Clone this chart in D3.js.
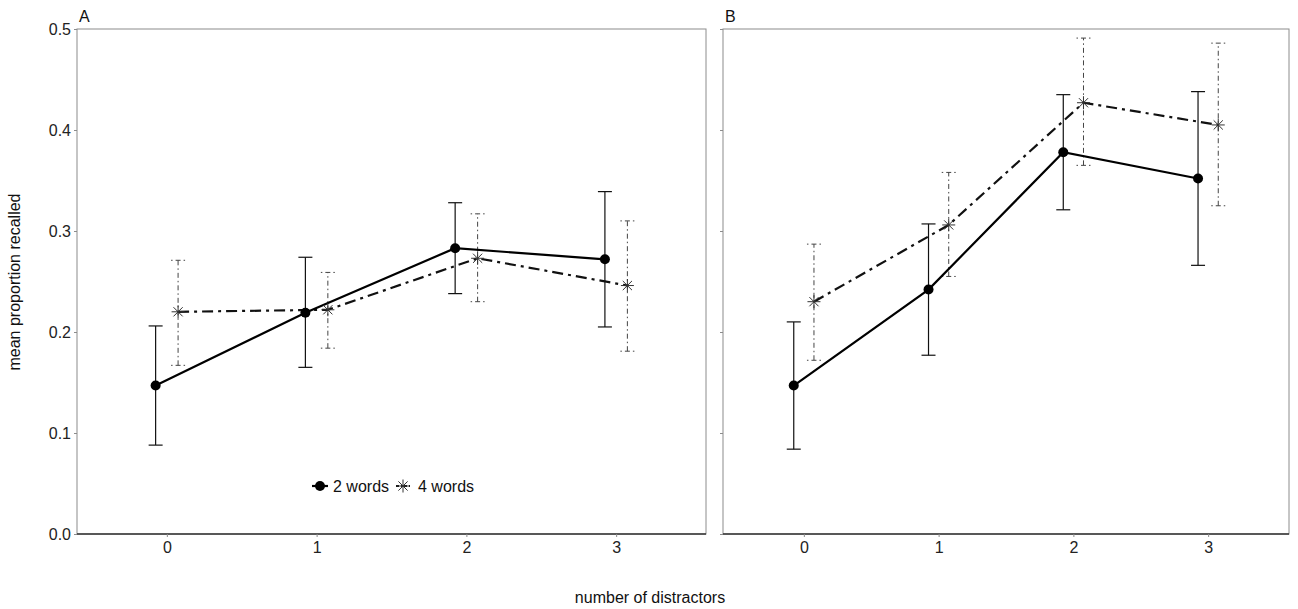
<!DOCTYPE html>
<html>
<head>
<meta charset="utf-8">
<script src="https://cdn.jsdelivr.net/npm/d3@7"></script>
<style>
  body { margin: 0; background: #fff; }
  text { font-family: "Liberation Sans", Arial, sans-serif; }
</style>
</head>
<body>
<div id="chart"></div>
<script>
// values
const distractors = [0, 1, 2, 3];
const seriesNames = ["2 words", "4 words"];
const yTicks = [0, 0.1, 0.2, 0.3, 0.4, 0.5];

// panel A
const meanA2 = [0.147, 0.219, 0.283, 0.272];
const loA2 = [0.088, 0.165, 0.238, 0.205];
const hiA2 = [0.206, 0.274, 0.328, 0.339];
const meanA4 = [0.220, 0.222, 0.273, 0.246];
const loA4 = [0.167, 0.184, 0.230, 0.181];
const hiA4 = [0.271, 0.259, 0.317, 0.310];

// panel B
const meanB2 = [0.147, 0.242, 0.378, 0.352];
const loB2 = [0.084, 0.177, 0.321, 0.266];
const hiB2 = [0.210, 0.307, 0.435, 0.438];
const meanB4 = [0.230, 0.306, 0.427, 0.405];
const loB4 = [0.172, 0.255, 0.365, 0.325];
const hiB4 = [0.287, 0.358, 0.491, 0.486];

function main() {
  const width = 1298, height = 609;
  const top = 29, bottom = 534;
  const dodge = 0.075;
  const fs = 16;

  const svg = d3.select("#chart").append("svg")
    .attr("width", width).attr("height", height);

  const y = d3.scaleLinear().domain([0, 0.5]).range([bottom, top]);

  const panels = [
    { label: "A", left: 77, right: 706, yLabels: true, legend: true,
      s2: [meanA2, loA2, hiA2], s4: [meanA4, loA4, hiA4] },
    { label: "B", left: 723, right: 1289, yLabels: false, legend: false,
      s2: [meanB2, loB2, hiB2], s4: [meanB4, loB4, hiB4] }
  ];

  function star(g, cx, cy, r, stroke) {
    const d = r * Math.SQRT1_2;
    const p = `M${cx - r},${cy}L${cx + r},${cy}M${cx},${cy - r}L${cx},${cy + r}` +
      `M${cx - d},${cy - d}L${cx + d},${cy + d}M${cx - d},${cy + d}L${cx + d},${cy - d}`;
    g.append("path").attr("d", p).attr("stroke", stroke).attr("stroke-width", 1).attr("fill", "none");
  }

  panels.forEach(p => {
    const x = d3.scaleLinear().domain([-0.6, 3.6]).range([p.left, p.right]);
    const g = svg.append("g");

    // frame
    g.append("rect")
      .attr("x", p.left).attr("y", top)
      .attr("width", p.right - p.left).attr("height", bottom - top)
      .attr("fill", "none").attr("stroke", "#8c8c8c").attr("stroke-width", 1);
    g.append("line")
      .attr("x1", p.left).attr("x2", p.right).attr("y1", bottom).attr("y2", bottom)
      .attr("stroke", "#333").attr("stroke-width", 1.5);

    // y axis
    const yAxis = d3.axisLeft(y).tickValues(yTicks).tickSize(3).tickPadding(3)
      .tickFormat(p.yLabels ? d3.format(".1f") : "");
    const ya = g.append("g").attr("transform", `translate(${p.left},0)`).call(yAxis);
    ya.select(".domain").remove();
    ya.selectAll("line").attr("stroke", "#8c8c8c");
    ya.selectAll("text").attr("font-size", fs).attr("fill", "#222");

    // x axis
    const xAxis = d3.axisBottom(x).tickValues(distractors).tickSize(3).tickPadding(5)
      .tickFormat(d3.format("d"));
    const xa = g.append("g").attr("transform", `translate(0,${bottom})`).call(xAxis);
    xa.select(".domain").remove();
    xa.selectAll("line").attr("stroke", "#8c8c8c");
    xa.selectAll("text").attr("font-size", fs).attr("fill", "#222");

    // panel label
    g.append("text").attr("x", p.left + 2).attr("y", top - 7)
      .attr("font-size", fs).attr("fill", "#111").text(p.label);

    const d2 = distractors.map((d, i) => ({ x: x(d - dodge), m: y(p.s2[0][i]), lo: y(p.s2[1][i]), hi: y(p.s2[2][i]) }));
    const d4 = distractors.map((d, i) => ({ x: x(d + dodge), m: y(p.s4[0][i]), lo: y(p.s4[1][i]), hi: y(p.s4[2][i]) }));
    const cap = 7;

    // 4 words error bars (dot-dash, grey)
    d4.forEach(d => {
      g.append("line").attr("x1", d.x).attr("x2", d.x).attr("y1", d.lo).attr("y2", d.hi)
        .attr("stroke", "#444").attr("stroke-width", 1).attr("stroke-dasharray", "5,3,1.5,3");
      [d.lo, d.hi].forEach(v => g.append("line")
        .attr("x1", d.x - cap).attr("x2", d.x + cap).attr("y1", v).attr("y2", v)
        .attr("stroke", "#444").attr("stroke-width", 1).attr("stroke-dasharray", "1.5,3,5,3"));
    });

    // 2 words error bars
    d2.forEach(d => {
      g.append("line").attr("x1", d.x).attr("x2", d.x).attr("y1", d.lo).attr("y2", d.hi)
        .attr("stroke", "#111").attr("stroke-width", 1.2);
      [d.lo, d.hi].forEach(v => g.append("line")
        .attr("x1", d.x - cap).attr("x2", d.x + cap).attr("y1", v).attr("y2", v)
        .attr("stroke", "#111").attr("stroke-width", 1.2));
    });

    const line = d3.line().x(d => d.x).y(d => d.m);

    g.append("path").datum(d4).attr("d", line).attr("fill", "none")
      .attr("stroke", "#111").attr("stroke-width", 2.2).attr("stroke-dasharray", "11,5,3,5");
    g.append("path").datum(d2).attr("d", line).attr("fill", "none")
      .attr("stroke", "#000").attr("stroke-width", 2.2);

    d2.forEach(d => g.append("circle").attr("cx", d.x).attr("cy", d.m).attr("r", 5).attr("fill", "#000"));
    d4.forEach(d => star(g, d.x, d.m, 6.5, "#333"));

    if (p.legend) {
      const ly = 486;
      const lg = g.append("g");
      lg.append("line").attr("x1", 312).attr("x2", 328).attr("y1", ly).attr("y2", ly)
        .attr("stroke", "#000").attr("stroke-width", 2.2);
      lg.append("circle").attr("cx", 320).attr("cy", ly).attr("r", 5).attr("fill", "#000");
      lg.append("text").attr("x", 333).attr("y", ly + 6).attr("font-size", fs).attr("fill", "#111")
        .text(seriesNames[0]);
      lg.append("line").attr("x1", 396).attr("x2", 411).attr("y1", ly).attr("y2", ly)
        .attr("stroke", "#111").attr("stroke-width", 2.2).attr("stroke-dasharray", "3,2,1,2");
      star(lg, 403, ly, 6.5, "#333");
      lg.append("text").attr("x", 418).attr("y", ly + 6).attr("font-size", fs).attr("fill", "#111")
        .text(seriesNames[1]);
    }
  });

  // axis titles
  svg.append("text").attr("x", 650).attr("y", 603).attr("text-anchor", "middle")
    .attr("font-size", fs).attr("fill", "#111").text("number of distractors");
  svg.append("text").attr("transform", "translate(20,282) rotate(-90)")
    .attr("text-anchor", "middle").attr("font-size", fs).attr("fill", "#111")
    .text("mean proportion recalled");
}
main();
</script>
</body>
</html>
